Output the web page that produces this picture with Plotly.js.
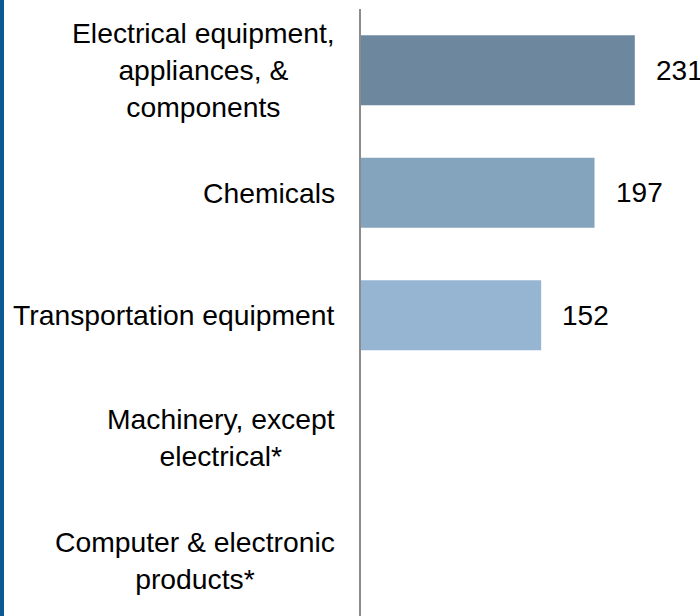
<!DOCTYPE html>
<html>
<head>
<meta charset="utf-8">
<script src="https://cdn.plot.ly/plotly-3.0.1.min.js"></script>
<style>
  html, body { margin: 0; padding: 0; overflow: hidden; background: #fff; }
  #wrap { position: relative; width: 700px; height: 616px; }
  #chart { position: absolute; left: 0; top: 0; width: 700px; height: 616px; }
  #stripe { position: absolute; left: 0; top: 0; width: 4px; height: 616px; background: #0b5a93; z-index: 5; }
</style>
</head>
<body>
<div id="wrap">
  <div id="chart"></div>
  <div id="stripe"></div>
</div>
<script>
// ---- data ----
const categories = [
  "Electrical equipment,<br>appliances, &<br>components",
  "Chemicals",
  "Transportation equipment",
  "Machinery, except<br>electrical*",
  "Computer & electronic<br>products*"
];
const values = [231, 197, 152, null, null];
const valueLabels = ["231", "197", "152", "", ""];

// ---- styles ----
const barColors = ["#6d889e", "#84a3bd", "#96b5d3", "#96b5d3", "#96b5d3"];
const FONT = "Liberation Sans, Arial, sans-serif";

const trace = {
  type: "bar",
  orientation: "h",
  y: categories.map((c, i) => i),
  x: values,
  marker: { color: barColors, line: { width: 0 } },
  hoverinfo: "skip"
};

const annotations = [];
categories.forEach((c, i) => {
  annotations.push({
    x: 0, y: i, xref: "x", yref: "y",
    text: c, showarrow: false,
    xanchor: "right", yanchor: "middle", align: "center",
    xshift: -24,
    font: { family: FONT, size: 28.3, color: "#000" }
  });
  if (values[i] !== null) {
    annotations.push({
      x: values[i], y: i, xref: "x", yref: "y",
      text: valueLabels[i], showarrow: false,
      xanchor: "left", yanchor: "middle",
      xshift: 19,
      font: { family: FONT, size: 28, color: "#000" }
    });
  }
});

const layout = {
  width: 700, height: 616,
  margin: { l: 361, r: 0, t: 9, b: 0, pad: 0 },
  paper_bgcolor: "#fff", plot_bgcolor: "#fff",
  showlegend: false,
  bargap: 0.43,
  xaxis: {
    range: [0, 286], showgrid: false, zeroline: false,
    showticklabels: false, showline: false, ticks: ""
  },
  yaxis: {
    range: [4.455, -0.5], showgrid: false, zeroline: false,
    showticklabels: false, ticks: "",
    showline: true, linecolor: "#8c8c8c", linewidth: 2
  },
  annotations: annotations
};

Plotly.newPlot("chart", [trace], layout, { displayModeBar: false, staticPlot: true });
</script>
</body>
</html>
